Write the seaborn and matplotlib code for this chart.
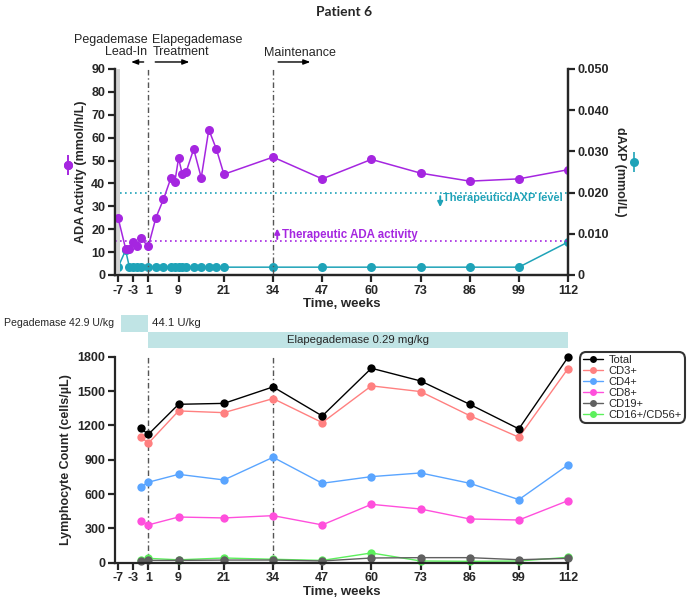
import pandas as pd
import matplotlib.pyplot as plt
import seaborn as sns
from matplotlib.lines import Line2D

# ---------------- data ----------------
tick_weeks = [-7, -3, 1, 9, 21, 34, 47, 60, 73, 86, 99, 112]

ada_weeks = [-7, -5, -4, -3, -2, -1, 1, 3, 5, 7, 8, 9, 10, 11, 13, 15, 17, 19, 21,
             34, 47, 60, 73, 86, 99, 112]
ada_activity = [25, 11.5, 11.5, 14.5, 12.5, 16, 12.5, 25, 33, 42.5, 40.5, 51, 44, 45,
                55, 42.5, 63.5, 55, 44, 51.5, 42, 50.5, 44.5, 41, 42, 46]
daxp = [0.0019, 0.006, 0.0019, 0.0019, 0.0019, 0.0019, 0.0019, 0.0019, 0.0019,
        0.0019, 0.0019, 0.0019, 0.0019, 0.0019, 0.0019, 0.0019, 0.0019, 0.0019,
        0.0019, 0.0019, 0.0019, 0.0019, 0.0019, 0.0019, 0.0019, 0.008]
ada_threshold = 15
daxp_threshold = 0.020

lym_weeks = [-1, 1, 9, 21, 34, 47, 60, 73, 86, 99, 112]
total = [1174, 1121, 1384, 1392, 1536, 1282, 1699, 1588, 1384, 1169, 1795]
cd3 = [1101, 1043, 1326, 1311, 1434, 1224, 1545, 1495, 1285, 1096, 1696]
cd4 = [662, 703, 772, 723, 921, 694, 752, 784, 694, 551, 854]
cd8 = [362, 330, 399, 391, 411, 330, 510, 469, 382, 373, 542]
cd19 = [17, 20, 20, 23, 23, 15, 41, 44, 44, 26, 38]
cd16_56 = [20, 38, 25, 41, 30, 20, 85, 15, 12, 15, 47]
subsets = ["Total", "CD3+", "CD4+", "CD8+", "CD19+", "CD16+/CD56+"]
subset_colors = ["#000000", "#FF8080", "#5AA5FF", "#FF4FDC", "#606060", "#5CF05C"]

# dosing bars
dose_labels = ["44.1 U/kg", "Elapegademase 0.29 mg/kg"]
dose_start = [-6.1, 1]
dose_end = [1, 112]
dose_row = [1.5, 0.5]

PURPLE = "#A526E0"
TEAL = "#1FA3B8"
BAR = "#C0E4E5"

# ---------------- style ----------------
sns.set_style("ticks")
plt.rcParams['font.family'] = ['Liberation Sans', 'DejaVu Sans']
plt.rcParams['font.weight'] = 'bold'
plt.rcParams['axes.unicode_minus'] = False
plt.rcParams['axes.linewidth'] = 1.6
plt.rcParams['xtick.major.width'] = 1.6
plt.rcParams['ytick.major.width'] = 1.6
plt.rcParams['xtick.major.size'] = 5
plt.rcParams['ytick.major.size'] = 5

fig = plt.figure(figsize=(6.88, 6.02), dpi=100)
ax = fig.add_axes([0.1672, 0.5432, 0.6584, 0.3422])
ax2 = ax.twinx()
axl = fig.add_axes([0.1672, 0.0653, 0.6584, 0.3422])
axd = fig.add_axes([0.1672, 0.4219, 0.6584, 0.0548], sharex=axl)

XL = (-7.8, 112)

# ---------------- upper panel ----------------
ada_df = pd.DataFrame({"week": ada_weeks, "ada": ada_activity, "daxp": daxp})
ax.axvspan(-7.8, -6.4, color="#D3D3D3", lw=0, zorder=0)
ax.axhline(ada_threshold, color=PURPLE, ls=(0, (1, 2)), lw=1.2, zorder=1)
ax2.axhline(daxp_threshold, color=TEAL, ls=(0, (1, 2)), lw=1.2, zorder=1)
for w in [1, 34]:
    ax.axvline(w, color="#555555", ls=(0, (4, 2, 1, 2)), lw=1, zorder=1)

sns.lineplot(data=ada_df, x="week", y="daxp", ax=ax2, color=TEAL, marker="o",
             markersize=6.5, markeredgewidth=0, linewidth=1.1)
sns.lineplot(data=ada_df, x="week", y="ada", ax=ax, color=PURPLE, marker="o",
             markersize=6.5, markeredgewidth=0, linewidth=1.1)
ax.set_zorder(ax2.get_zorder() + 1)
ax.patch.set_visible(False)

ax.set_xlim(*XL)
ax.set_ylim(0, 90)
ax.set_yticks(range(0, 91, 10))
ax2.set_ylim(0, 0.05)
ax2.set_yticks([0, 0.01, 0.02, 0.03, 0.04, 0.05])
ax2.set_yticklabels(["0", "0.010", "0.020", "0.030", "0.040", "0.050"])
ax.set_xticks(tick_weeks)
ax.tick_params(labelsize=9, pad=2)
ax2.tick_params(labelsize=9, pad=2)
ax.spines['top'].set_visible(False)
ax2.spines['top'].set_visible(False)
ax.set_xlabel("Time, weeks", fontsize=9.5, fontweight='bold', labelpad=1)
ax.set_ylabel("ADA Activity (mmol/h/L)", fontsize=9, fontweight='bold', labelpad=3)
ax2.set_ylabel("dAXP (mmol/L)", fontsize=9, fontweight='bold', rotation=270, labelpad=12)

# symbol keys next to the y labels
def key(color):
    return (Line2D([], [], ls='none', marker='|', markersize=14, mew=1.2, color=color),
            Line2D([], [], ls='none', marker='o', markersize=6.5, mew=0, color=color))

lg1 = ax.legend(handles=[key(PURPLE)], labels=[""], loc="center", frameon=False,
                bbox_to_anchor=(-0.104, 0.53), handlelength=1, handletextpad=0, borderpad=0)
ax.add_artist(lg1)
ax2.legend(handles=[key(TEAL)], labels=[""], loc="center", frameon=False,
           bbox_to_anchor=(1.146, 0.545), handlelength=1, handletextpad=0, borderpad=0)

# threshold annotations
ax.annotate("", xy=(35.1, 21.5), xytext=(35.1, 14.5),
            arrowprops=dict(arrowstyle="-|>,head_length=0.3,head_width=0.15", color=PURPLE, lw=1.4))
ax.text(36.4, 17.5, "Therapeutic ADA activity", color=PURPLE, fontsize=8.3,
        va="center", ha="left")
ax2.annotate("", xy=(78.2, 0.0158), xytext=(78.2, 0.0198),
             arrowprops=dict(arrowstyle="-|>,head_length=0.3,head_width=0.15", color=TEAL, lw=1.4))
ax2.text(79, 0.0186, "TherapeuticdAXP level", color=TEAL, fontsize=7.9,
         va="center", ha="left")

# phase labels above the panel
ax.text(0.7, 1.11, "Pegademase\nLead-In", transform=ax.get_xaxis_transform(),
        ha="right", va="center", fontsize=9, fontweight='normal', linespacing=1.0)
ax.text(2.1, 1.11, "Elapegademase\nTreatment", transform=ax.get_xaxis_transform(),
        ha="left", va="center", fontsize=9, fontweight='normal', linespacing=1.0)
ax.text(31.7, 1.078, "Maintenance", transform=ax.get_xaxis_transform(),
        ha="left", va="center", fontsize=9, fontweight='normal')
arrow = dict(arrowstyle="-|>,head_length=0.4,head_width=0.15", color="black", lw=1)
for x0, x1 in [(0.5, -4.3), (2.1, 12.6), (34.6, 44.6)]:
    ax.annotate("", xy=(x1, 1.034), xytext=(x0, 1.034),
                xycoords=ax.get_xaxis_transform(), arrowprops=arrow, annotation_clip=False)

# ---------------- dose bars ----------------
axd.barh(dose_row, [e - s for s, e in zip(dose_start, dose_end)], left=dose_start,
         height=1, color=BAR, lw=0)
axd.set_ylim(0, 2)
axd.axis("off")
axd.text(2.0, 1.5, dose_labels[0], ha="left", va="center", fontsize=8.2, fontweight='normal')
axd.text((dose_start[1] + dose_end[1]) / 2, 0.5, dose_labels[1], ha="center",
         va="center", fontsize=8.2, fontweight='normal')
axd.text(-8.1, 1.5, "Pegademase 42.9 U/kg", ha="right", va="center", fontsize=7.6,
         fontweight='normal')

# ---------------- lower panel ----------------
lym = pd.DataFrame({"week": lym_weeks * 6,
                    "count": total + cd3 + cd4 + cd8 + cd19 + cd16_56,
                    "subset": [s for s in subsets for _ in lym_weeks]})
for w in [1, 34]:
    axl.axvline(w, color="#555555", ls=(0, (4, 2, 1, 2)), lw=1, zorder=1)
sns.lineplot(data=lym, x="week", y="count", hue="subset", hue_order=subsets[::-1],
             palette=dict(zip(subsets, subset_colors)), marker="o", markersize=6,
             markeredgewidth=0, linewidth=1, ax=axl, legend=False)
for line in axl.lines:
    if line.get_marker() == "o":
        line.set_clip_on(False)
axl.set_xlim(*XL)
axl.set_ylim(0, 1800)
axl.set_yticks(range(0, 1801, 300))
axl.set_xticks(tick_weeks)
axl.tick_params(labelsize=9, pad=2)
axl.spines['top'].set_visible(False)
axl.spines['right'].set_visible(False)
axl.set_xlabel("Time, weeks", fontsize=9.5, fontweight='bold', labelpad=1)
axl.set_ylabel("Lymphocyte Count (cells/\u00b5L)", fontsize=9, fontweight='bold', labelpad=4)

handles = [Line2D([], [], color=c, marker="o", markersize=5, mew=0, lw=1) for c in subset_colors]
leg = axl.legend(handles, subsets, loc="upper left", bbox_to_anchor=(1.026, 1.023),
                 borderaxespad=0, fontsize=8, labelspacing=0.08, handlelength=1.8,
                 handletextpad=0.5, borderpad=0.3, fancybox=True, frameon=True)
leg.get_frame().set_edgecolor("black")
leg.get_frame().set_linewidth(1.5)
leg.get_frame().set_boxstyle("round,pad=0,rounding_size=0.6")
for t in leg.get_texts():
    t.set_fontweight('normal')

fig.text(0.5, 0.98, "Patient 6", ha="center", va="center", fontsize=10,
         fontweight='bold', family=['Lato', 'DejaVu Sans'])

fig.savefig("out.png", dpi=100)
